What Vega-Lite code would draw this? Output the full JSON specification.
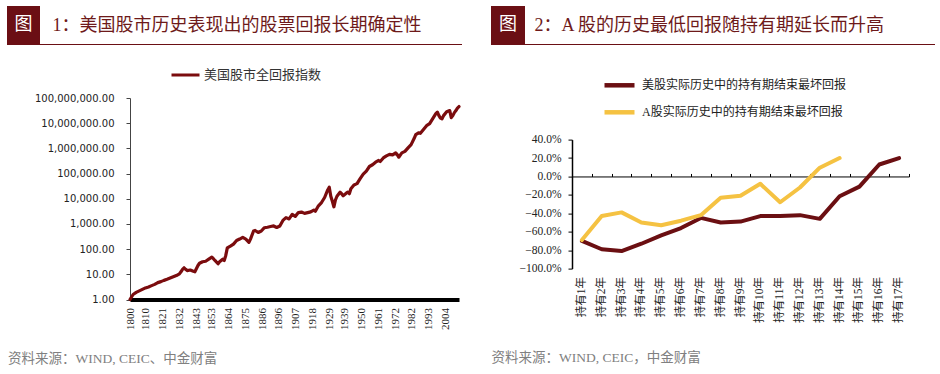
{
  "$schema": "https://vega.github.io/schema/vega-lite/v6.json",
  "padding": {"left": 7, "top": 6, "right": 0, "bottom": 0},
  "background": "white",
  "config": {"view": {"stroke": null}},
  "spacing": 29,
  "resolve": {"scale": {"color": "independent"}, "legend": {"color": "independent"}},
  "hconcat": [
    {
      "spacing": 14,
      "resolve": {"scale": {"color": "independent"}, "legend": {"color": "independent"}},
      "vconcat": [
        {
          "spacing": 0,
          "vconcat": [
            {
              "width": 33,
              "height": 38,
              "view": {"fill": "#6b0f14", "stroke": null},
              "data": {"values": [{"t": "图"}]},
              "mark": {"type": "text", "color": "#ffffff", "fontSize": 18, "font": "Noto Sans CJK SC"},
              "encoding": {
                "text": {"field": "t"},
                "x": {"datum": 0, "type": "quantitative", "scale": {"domain": [-1, 1]},
                  "axis": {"domain": false, "ticks": false, "labels": false, "grid": false, "minExtent": 0, "maxExtent": 0,
                    "title": "1：美国股市历史表现出的股票回报长期确定性", "titleX": 45, "titleY": -19, "titleAlign": "left", "titleBaseline": "middle", "titleAngle": 0,
                    "titleFont": "Liberation Serif, Noto Sans CJK SC", "titleFontSize": 18, "titleFontWeight": "normal", "titleColor": "#6e1a1a"}}
              }
            },
            {
              "width": 455,
              "height": 1,
              "view": {"fill": "#6b0f14", "stroke": null},
              "data": {"values": []},
              "mark": "text",
              "encoding": {}
            }
          ]
        },
        {
          "spacing": -1,
          "resolve": {"scale": {"color": "independent"}, "legend": {"color": "independent"}},
          "hconcat": [
            {"width": 1, "height": 1, "data": {"values": []}, "mark": "text", "encoding": {}},
            {
              "width": 329,
              "height": 201.5,
              "data": {"values": [
                {"year": 1800, "value": 1}, {"year": 1802, "value": 1.58}, {"year": 1804, "value": 1.91}, {"year": 1806, "value": 2.19},
                {"year": 1808, "value": 2.51}, {"year": 1810, "value": 2.88}, {"year": 1812, "value": 3.16}, {"year": 1814, "value": 3.55},
                {"year": 1816, "value": 3.98}, {"year": 1818, "value": 4.68}, {"year": 1820, "value": 5.13}, {"year": 1822, "value": 5.75},
                {"year": 1824, "value": 6.31}, {"year": 1826, "value": 7.08}, {"year": 1828, "value": 7.94}, {"year": 1830, "value": 8.91},
                {"year": 1832, "value": 10.5}, {"year": 1833, "value": 12.6}, {"year": 1834, "value": 15.8}, {"year": 1835, "value": 18.2},
                {"year": 1836, "value": 15.8}, {"year": 1837, "value": 14.1}, {"year": 1839, "value": 14.8}, {"year": 1841, "value": 13.2},
                {"year": 1842, "value": 12.6}, {"year": 1844, "value": 22.4}, {"year": 1845, "value": 27.5}, {"year": 1847, "value": 31.6},
                {"year": 1849, "value": 33.1}, {"year": 1851, "value": 39.8}, {"year": 1853, "value": 47.9}, {"year": 1854, "value": 41.7},
                {"year": 1855, "value": 35.5}, {"year": 1857, "value": 26.3}, {"year": 1858, "value": 31.6}, {"year": 1860, "value": 39.8},
                {"year": 1861, "value": 35.5}, {"year": 1862, "value": 56.2}, {"year": 1863, "value": 112}, {"year": 1865, "value": 132},
                {"year": 1867, "value": 158}, {"year": 1869, "value": 219}, {"year": 1871, "value": 251}, {"year": 1873, "value": 295},
                {"year": 1875, "value": 251}, {"year": 1877, "value": 186}, {"year": 1878, "value": 251}, {"year": 1880, "value": 525},
                {"year": 1881, "value": 550}, {"year": 1883, "value": 457}, {"year": 1885, "value": 525}, {"year": 1887, "value": 708},
                {"year": 1889, "value": 741}, {"year": 1891, "value": 794}, {"year": 1893, "value": 832}, {"year": 1895, "value": 724},
                {"year": 1897, "value": 832}, {"year": 1899, "value": 1380}, {"year": 1901, "value": 1778}, {"year": 1903, "value": 1585},
                {"year": 1905, "value": 2399}, {"year": 1907, "value": 1995}, {"year": 1909, "value": 2818}, {"year": 1911, "value": 2951},
                {"year": 1913, "value": 2630}, {"year": 1915, "value": 2818}, {"year": 1917, "value": 3020}, {"year": 1919, "value": 3548},
                {"year": 1920, "value": 3162}, {"year": 1922, "value": 5248}, {"year": 1924, "value": 7079}, {"year": 1926, "value": 11220},
                {"year": 1928, "value": 22387}, {"year": 1929, "value": 28840}, {"year": 1930, "value": 12589}, {"year": 1931, "value": 7943},
                {"year": 1932, "value": 4786}, {"year": 1933, "value": 8913}, {"year": 1934, "value": 12589}, {"year": 1936, "value": 18197},
                {"year": 1937, "value": 15849}, {"year": 1938, "value": 13183}, {"year": 1940, "value": 16596}, {"year": 1941, "value": 18197},
                {"year": 1942, "value": 15849}, {"year": 1943, "value": 25119}, {"year": 1945, "value": 35481}, {"year": 1947, "value": 39811},
                {"year": 1949, "value": 63096}, {"year": 1951, "value": 95499}, {"year": 1953, "value": 125893}, {"year": 1955, "value": 190546},
                {"year": 1957, "value": 223872}, {"year": 1959, "value": 281838}, {"year": 1961, "value": 331131}, {"year": 1962, "value": 301995},
                {"year": 1964, "value": 416869}, {"year": 1966, "value": 501187}, {"year": 1968, "value": 575440}, {"year": 1970, "value": 549541},
                {"year": 1972, "value": 660693}, {"year": 1973, "value": 562341}, {"year": 1974, "value": 446684}, {"year": 1976, "value": 660693},
                {"year": 1978, "value": 758578}, {"year": 1980, "value": 1047129}, {"year": 1982, "value": 1412538}, {"year": 1984, "value": 2511886},
                {"year": 1985, "value": 3548134}, {"year": 1987, "value": 4168694}, {"year": 1988, "value": 3981072}, {"year": 1990, "value": 5623413},
                {"year": 1992, "value": 7943282}, {"year": 1994, "value": 9549926}, {"year": 1996, "value": 15135612}, {"year": 1998, "value": 23988329},
                {"year": 1999, "value": 27542287}, {"year": 2000, "value": 19952623}, {"year": 2001, "value": 15848932}, {"year": 2002, "value": 14791084},
                {"year": 2003, "value": 19952623}, {"year": 2005, "value": 28183829}, {"year": 2007, "value": 31622777}, {"year": 2008, "value": 16595869},
                {"year": 2009, "value": 19952623}, {"year": 2010, "value": 26302680}, {"year": 2011, "value": 31622777}, {"year": 2012, "value": 39810717},
                {"year": 2013, "value": 45708819}
              ]},
              "mark": {"type": "line", "strokeWidth": 3.2, "strokeJoin": "round", "strokeCap": "round"},
              "encoding": {
                "x": {
                  "field": "year", "type": "quantitative",
                  "scale": {"domain": [1800, 2013], "nice": false, "zero": false},
                  "axis": {
                    "values": [1800, 1810, 1821, 1832, 1843, 1853, 1864, 1875, 1886, 1896, 1907, 1918, 1929, 1939, 1950, 1961, 1972, 1982, 1993, 2004],
                    "format": "d", "labelAngle": 270, "labelAlign": "right", "labelBaseline": "middle", "labelPadding": 8,
                    "labelFont": "Liberation Serif", "labelFontSize": 11, "labelColor": "#222222", "labelFlush": false, "labelOverlap": false,
                    "ticks": false, "grid": false, "domainColor": "#000000", "domainWidth": 4,
                    "title": "资料来源：WIND, CEIC、中金财富", "titleX": -122.5, "titleY": 58.5, "titleAlign": "left", "titleBaseline": "middle", "titleAngle": 0,
                    "titleFont": "Liberation Serif, Noto Sans CJK SC", "titleFontSize": 13.5, "titleFontWeight": "normal", "titleColor": "#808080"
                  }
                },
                "y": {
                  "field": "value", "type": "quantitative",
                  "scale": {"type": "log", "domain": [1, 100000000], "nice": false},
                  "axis": {
                    "values": [1, 10, 100, 1000, 10000, 100000, 1000000, 10000000, 100000000],
                    "format": ",.2f", "labelFont": "DejaVu Sans", "labelFontSize": 10, "labelColor": "#222222",
                    "tickSize": 4, "labelPadding": 12, "grid": false, "domainColor": "#444444", "tickColor": "#444444", "title": null
                  }
                },
                "color": {
                  "datum": "美国股市全回报指数", "type": "nominal",
                  "scale": {"domain": ["美国股市全回报指数"], "range": ["#7b0c0e"]},
                  "legend": {"orient": "none", "legendX": 40, "legendY": -38.5, "title": null, "padding": 0, "symbolType": "stroke", "symbolSize": 784, "symbolStrokeWidth": 3,
                    "labelFont": "Noto Sans CJK SC", "labelFontSize": 13, "labelColor": "#333333", "labelOffset": 3}
                }
              }
            }
          ]
        }
      ]
    },
    {
      "spacing": 22.6,
      "resolve": {"scale": {"color": "independent"}, "legend": {"color": "independent"}},
      "vconcat": [
        {
          "spacing": 0,
          "vconcat": [
            {
              "width": 34,
              "height": 38,
              "view": {"fill": "#6b0f14", "stroke": null},
              "data": {"values": [{"t": "图"}]},
              "mark": {"type": "text", "color": "#ffffff", "fontSize": 18, "font": "Noto Sans CJK SC"},
              "encoding": {
                "text": {"field": "t"},
                "x": {"datum": 0, "type": "quantitative", "scale": {"domain": [-1, 1]},
                  "axis": {"domain": false, "ticks": false, "labels": false, "grid": false, "minExtent": 0, "maxExtent": 0,
                    "title": "2：A 股的历史最低回报随持有期延长而升高", "titleX": 43, "titleY": -19, "titleAlign": "left", "titleBaseline": "middle", "titleAngle": 0,
                    "titleFont": "Liberation Serif, Noto Sans CJK SC", "titleFontSize": 18, "titleFontWeight": "normal", "titleColor": "#6e1a1a"}}
              }
            },
            {
              "width": 444,
              "height": 1,
              "view": {"fill": "#6b0f14", "stroke": null},
              "data": {"values": []},
              "mark": "text",
              "encoding": {}
            }
          ]
        },
        {
          "spacing": -1,
          "resolve": {"scale": {"color": "independent"}, "legend": {"color": "independent"}},
          "hconcat": [
            {"width": 1, "height": 1, "data": {"values": []}, "mark": "text", "encoding": {}},
            {
              "width": 337,
              "height": 129,
              "data": {"values": [
                {"n": 1, "period": "持有1年", "code": "us", "series": "美股实际历史中的持有期结束最坏回报", "value": -0.70},
                {"n": 2, "period": "持有2年", "code": "us", "series": "美股实际历史中的持有期结束最坏回报", "value": -0.79},
                {"n": 3, "period": "持有3年", "code": "us", "series": "美股实际历史中的持有期结束最坏回报", "value": -0.81},
                {"n": 4, "period": "持有4年", "code": "us", "series": "美股实际历史中的持有期结束最坏回报", "value": -0.73},
                {"n": 5, "period": "持有5年", "code": "us", "series": "美股实际历史中的持有期结束最坏回报", "value": -0.64},
                {"n": 6, "period": "持有6年", "code": "us", "series": "美股实际历史中的持有期结束最坏回报", "value": -0.56},
                {"n": 7, "period": "持有7年", "code": "us", "series": "美股实际历史中的持有期结束最坏回报", "value": -0.45},
                {"n": 8, "period": "持有8年", "code": "us", "series": "美股实际历史中的持有期结束最坏回报", "value": -0.50},
                {"n": 9, "period": "持有9年", "code": "us", "series": "美股实际历史中的持有期结束最坏回报", "value": -0.49},
                {"n": 10, "period": "持有10年", "code": "us", "series": "美股实际历史中的持有期结束最坏回报", "value": -0.43},
                {"n": 11, "period": "持有11年", "code": "us", "series": "美股实际历史中的持有期结束最坏回报", "value": -0.43},
                {"n": 12, "period": "持有12年", "code": "us", "series": "美股实际历史中的持有期结束最坏回报", "value": -0.42},
                {"n": 13, "period": "持有13年", "code": "us", "series": "美股实际历史中的持有期结束最坏回报", "value": -0.46},
                {"n": 14, "period": "持有14年", "code": "us", "series": "美股实际历史中的持有期结束最坏回报", "value": -0.215},
                {"n": 15, "period": "持有15年", "code": "us", "series": "美股实际历史中的持有期结束最坏回报", "value": -0.11},
                {"n": 16, "period": "持有16年", "code": "us", "series": "美股实际历史中的持有期结束最坏回报", "value": 0.13},
                {"n": 17, "period": "持有17年", "code": "us", "series": "美股实际历史中的持有期结束最坏回报", "value": 0.20},
                {"n": 1, "period": "持有1年", "code": "cn", "series": "A股实际历史中的持有期结束最坏回报", "value": -0.69},
                {"n": 2, "period": "持有2年", "code": "cn", "series": "A股实际历史中的持有期结束最坏回报", "value": -0.43},
                {"n": 3, "period": "持有3年", "code": "cn", "series": "A股实际历史中的持有期结束最坏回报", "value": -0.39},
                {"n": 4, "period": "持有4年", "code": "cn", "series": "A股实际历史中的持有期结束最坏回报", "value": -0.50},
                {"n": 5, "period": "持有5年", "code": "cn", "series": "A股实际历史中的持有期结束最坏回报", "value": -0.53},
                {"n": 6, "period": "持有6年", "code": "cn", "series": "A股实际历史中的持有期结束最坏回报", "value": -0.48},
                {"n": 7, "period": "持有7年", "code": "cn", "series": "A股实际历史中的持有期结束最坏回报", "value": -0.42},
                {"n": 8, "period": "持有8年", "code": "cn", "series": "A股实际历史中的持有期结束最坏回报", "value": -0.23},
                {"n": 9, "period": "持有9年", "code": "cn", "series": "A股实际历史中的持有期结束最坏回报", "value": -0.21},
                {"n": 10, "period": "持有10年", "code": "cn", "series": "A股实际历史中的持有期结束最坏回报", "value": -0.08},
                {"n": 11, "period": "持有11年", "code": "cn", "series": "A股实际历史中的持有期结束最坏回报", "value": -0.28},
                {"n": 12, "period": "持有12年", "code": "cn", "series": "A股实际历史中的持有期结束最坏回报", "value": -0.12},
                {"n": 13, "period": "持有13年", "code": "cn", "series": "A股实际历史中的持有期结束最坏回报", "value": 0.095},
                {"n": 14, "period": "持有14年", "code": "cn", "series": "A股实际历史中的持有期结束最坏回报", "value": 0.20}
              ]},
              "encoding": {
                "y": {
                  "field": "value", "type": "quantitative",
                  "scale": {"domain": [-1, 0.4], "nice": false, "zero": false},
                  "axis": {
                    "values": [-1, -0.8, -0.6, -0.4, -0.2, 0, 0.2, 0.4], "format": ".1%",
                    "labelFont": "Liberation Serif", "labelFontSize": 11.5, "labelColor": "#222222",
                    "tickSize": 4, "tickColor": "#000000", "labelPadding": 7, "domainColor": "#000000", "domainWidth": 1.5, "grid": false, "title": null
                  }
                },
                "color": {
                  "field": "series", "type": "nominal",
                  "scale": {"domain": ["美股实际历史中的持有期结束最坏回报", "A股实际历史中的持有期结束最坏回报"], "range": ["#6b0f12", "#f5c242"]},
                  "legend": {"orient": "none", "legendX": 30, "legendY": -71.8, "title": null, "padding": 0, "symbolType": "stroke", "symbolSize": 900, "symbolStrokeWidth": 4.5,
                    "labelFont": "Liberation Serif, Noto Sans CJK SC", "labelFontSize": 12, "labelColor": "#222222", "labelOffset": 5, "rowPadding": 0, "labelLimit": 300}
                },
                "order": {"field": "n", "type": "quantitative"}
              },
              "layer": [
                {
                  "transform": [{"filter": "datum.code === 'us'"}],
                  "mark": {"type": "line", "strokeWidth": 4, "strokeJoin": "round", "strokeCap": "round"},
                  "encoding": {
                    "x": {
                      "field": "period", "type": "nominal",
                      "scale": {"type": "band", "paddingInner": 0, "paddingOuter": 0, "domain": ["持有1年", "持有2年", "持有3年", "持有4年", "持有5年", "持有6年", "持有7年", "持有8年", "持有9年", "持有10年", "持有11年", "持有12年", "持有13年", "持有14年", "持有15年", "持有16年", "持有17年"]},
                      "axis": {
                        "orient": "bottom", "domain": false, "ticks": false, "grid": false,
                        "labelAngle": 270, "labelAlign": "right", "labelBaseline": "middle", "labelPadding": 8,
                        "labelFont": "Liberation Serif, Noto Sans CJK SC", "labelFontSize": 11.5, "labelColor": "#222222",
                        "title": "资料来源：WIND, CEIC，中金财富", "titleX": -81, "titleY": 89.1, "titleAlign": "left", "titleBaseline": "middle", "titleAngle": 0,
                        "titleFont": "Liberation Serif, Noto Sans CJK SC", "titleFontSize": 13.5, "titleFontWeight": "normal", "titleColor": "#808080"
                      }
                    }
                  }
                },
                {
                  "transform": [{"filter": "datum.code === 'cn'"}],
                  "mark": {"type": "line", "strokeWidth": 4, "strokeJoin": "round", "strokeCap": "round"},
                  "encoding": {
                    "x": {
                      "field": "period", "type": "nominal",
                      "scale": {"type": "band", "paddingInner": 0, "paddingOuter": 0, "domain": ["持有1年", "持有2年", "持有3年", "持有4年", "持有5年", "持有6年", "持有7年", "持有8年", "持有9年", "持有10年", "持有11年", "持有12年", "持有13年", "持有14年", "持有15年", "持有16年", "持有17年"]},
                      "axis": {
                        "orient": "top", "offset": -36.86, "labels": false, "domain": true, "domainColor": "#000000", "domainWidth": 1,
                        "ticks": true, "tickBand": "extent", "tickSize": 3, "tickColor": "#000000", "grid": false, "title": null
                      }
                    }
                  }
                }
              ],
              "resolve": {"axis": {"x": "independent"}}
            }
          ]
        }
      ]
    }
  ]
}
